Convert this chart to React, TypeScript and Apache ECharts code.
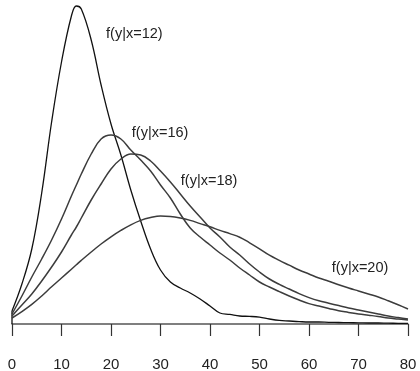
import React, { useEffect, useRef } from "react";
import * as echarts from "echarts";

const FONT = '"Liberation Sans", Arial, Helvetica, sans-serif';

// x grid (values of y)
const xs = [0, 2, 4, 6, 8, 10, 12, 13, 14, 16, 18, 20, 22, 24, 26, 28, 30, 32, 34, 36, 38, 40, 42, 44, 46, 48, 50, 52, 54, 56, 58, 60, 62, 64, 66, 68, 70, 72, 74, 76, 78, 80];

// densities (in thousandths)
const f12 = [3.25, 10, 18.75, 32.75, 50.5, 65.5, 77, 79.5, 78.75, 71, 59.75, 50, 42.25, 33.5, 25.75, 18.75, 13.5, 10.5, 9, 7.75, 6.25, 4.5, 2.75, 2.4, 2, 1.9, 1.7, 1.25, 0.9, 0.75, 0.6, 0.5, 0.5, 0.42, 0.38, 0.33, 0.3, 0.25, 0.25, 0.2, 0.18, 0.15];
const f16 = [2.5, 7, 11.75, 16.25, 21, 26.25, 32, 34.75, 37.5, 42.5, 46.25, 47.25, 46.25, 43.5, 41, 38.25, 34.75, 31.5, 27.5, 24, 21.75, 19.75, 17.75, 16, 14, 12.25, 10.5, 9.25, 8.1, 7, 6, 5.1, 4.5, 3.9, 3.3, 2.9, 2.5, 2.2, 1.9, 1.5, 1.25, 1];
const f18 = [2, 4.75, 7.5, 10.75, 14.25, 18, 22.25, 24.25, 26.5, 31, 35, 38.75, 41.25, 42.5, 42.25, 40.75, 38.25, 35.5, 32.5, 29.5, 26.75, 24, 21.75, 19.25, 17.25, 15, 13, 11.25, 9.9, 8.75, 7.6, 6.6, 5.8, 5.2, 4.6, 4, 3.5, 3, 2.5, 2, 1.6, 1.25];
const f20 = [1.5, 3.1, 4.9, 7, 9.3, 11.5, 13.7, 14.8, 15.9, 18, 20, 21.8, 23.4, 24.8, 25.9, 26.6, 27, 26.9, 26.5, 25.9, 25.1, 24.3, 23.4, 22.6, 21.7, 20.3, 18.8, 17.2, 15.9, 14.7, 13.5, 12.5, 11.5, 10.7, 9.8, 9, 8.25, 7.5, 6.75, 5.8, 4.8, 3.75];

const labelTexts = ["f(y|x=12)", "f(y|x=16)", "f(y|x=18)", "f(y|x=20)"];
const labelX = [19.0, 24.2, 34.1, 64.6];
const labelY = [72.75, 48, 36, 14.25];

export default function App() {
  const ref = useRef<HTMLDivElement>(null);
  useEffect(() => {
    const chart = echarts.init(ref.current!, null, { renderer: "svg" });
    const mk = (name: string, ys: number[], color: string, width: number) => ({
      type: "line",
      name,
      data: xs.map((x, i) => [x, ys[i]]),
      smooth: 0.4,
      symbol: "none",
      showSymbol: false,
      silent: true,
      lineStyle: { color, width },
    });
    chart.setOption({
      animation: false,
      grid: { left: 12, right: 12, top: 4, bottom: 47 },
      xAxis: {
        type: "value",
        min: 0,
        max: 80,
        interval: 10,
        splitLine: { show: false },
        axisLine: { show: true, lineStyle: { color: "#555", width: 1.5 } },
        axisTick: { show: true, length: 12, lineStyle: { color: "#333", width: 1.2 } },
        axisLabel: { color: "#222", fontSize: 15, fontFamily: FONT, margin: 32 },
      },
      yAxis: { type: "value", min: 0, max: 80, show: false },
      series: [
        {
          type: "line",
          name: "edge",
          data: [[xs[0], 0], [xs[0], f12[0]]],
          symbol: "none",
          silent: true,
          lineStyle: { color: "#111", width: 1.3 },
        },
        mk("f12", f12, "#111", 1.3),
        mk("f16", f16, "#3c3c3c", 1.5),
        mk("f18", f18, "#3c3c3c", 1.5),
        mk("f20", f20, "#3c3c3c", 1.5),
      ],
    });
    const graphic = labelTexts.map((t, i) => {
      const p = chart.convertToPixel({ gridIndex: 0 }, [labelX[i], labelY[i]]) as number[];
      return {
        type: "text",
        x: p[0],
        y: p[1],
        style: {
          text: t,
          fill: "#222",
          fontSize: 14.5,
          fontFamily: FONT,
          align: "left",
          verticalAlign: "middle",
        },
      };
    });
    chart.setOption({ graphic });
    return () => chart.dispose();
  }, []);
  return <div ref={ref} style={{ position: "fixed", left: 0, top: 0, width: 420, height: 371 }} />;
}
